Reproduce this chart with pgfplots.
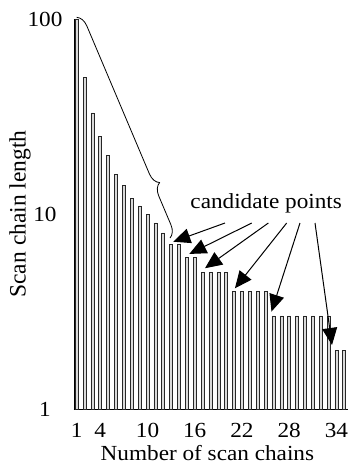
\documentclass[border=0pt]{standalone}
\usepackage{fontspec}
\setmainfont{Liberation Serif}[FakeStretch=1.08]
\newfontfamily\ylabfont{Liberation Serif}
\usepackage{pgfplots}
\pgfplotsset{compat=1.18}
\usetikzlibrary{arrows.meta,decorations.pathreplacing}
\begin{document}
\begin{tikzpicture}
\begin{axis}[
 scale only axis, width=274pt, height=390pt,
 xmin=0.66, xmax=35.47, ymode=log, ymin=1, ymax=100,
 axis x line*=bottom, axis y line*=left,
 axis line style={line width=0.9pt, black},
 xtick={1,4,10,16,22,28,34},
 ytick={1,10,100}, yticklabels={1,10,100},
 yminorticks=false,
 tick align=inside,
 y tick style={line width=0.6pt, black}, major tick length=5pt,
 x tick style={draw=none},
 /pgf/number format/assume math mode=true,
 tick label style={font=\fontsize{21.5}{24}\selectfont},
 every x tick label/.append style={anchor=base, yshift=-24pt, inner sep=0pt},
 every y tick label/.append style={anchor=center, xshift=-29pt, inner sep=0pt},
 xlabel={Number of scan chains},
 ylabel={Scan chain length},
 every axis x label/.style={at={(axis description cs:0.487,0)}, anchor=base, yshift=-51pt, font=\fontsize{21.5}{24}\selectfont},
 every axis y label/.style={at={(axis description cs:-0.197,0.5)}, rotate=90, anchor=center, font=\ylabfont\fontsize{23.5}{26}\selectfont},
 ybar, bar width=3pt, clip=false,
]
\addplot[draw=black!85, fill=gray!30, line width=0.6pt] coordinates {
(1,100) (2,50) (3,33) (4,25) (5,20) (6,16) (7,14) (8,12) (9,11) (10,10)
(11,9) (12,8) (13,7) (14,7) (15,6) (16,6) (17,5) (18,5) (19,5) (20,5)
(21,4) (22,4) (23,4) (24,4) (25,4) (26,3) (27,3) (28,3) (29,3) (30,3)
(31,3) (32,3) (33,3) (34,2) (35,2)};
\draw[decorate, decoration={brace, amplitude=12pt, aspect=0.77}, line width=0.8pt] (axis cs:1,102) -- (axis cs:12.86,7.53);
\node[anchor=base, font=\fontsize{21.5}{24}\selectfont, inner sep=0pt] at (axis cs:25.08,10.73) {candidate points};
\begin{scope}[line width=1pt, -{Triangle[length=17pt,width=15pt]}]
\draw (axis cs:19.84,8.99) -- (axis cs:13.27,7.21);
\draw (axis cs:23.24,8.99) -- (axis cs:15.31,6.24);
\draw (axis cs:25.35,8.99) -- (axis cs:17.30,5.27);
\draw (axis cs:27.68,8.99) -- (axis cs:21.11,4.16);
\draw (axis cs:29.37,8.99) -- (axis cs:25.75,3.16);
\draw (axis cs:31.28,8.99) -- (axis cs:33.44,2.13);
\end{scope}
\coordinate (ll) at (rel axis cs:0,0);
\coordinate (ur) at (rel axis cs:1,1);
\end{axis}
\pgfresetboundingbox
\path ([xshift=-74pt,yshift=-58pt]ll) rectangle ([xshift=4pt,yshift=19pt]ur);
\end{tikzpicture}
\end{document}
